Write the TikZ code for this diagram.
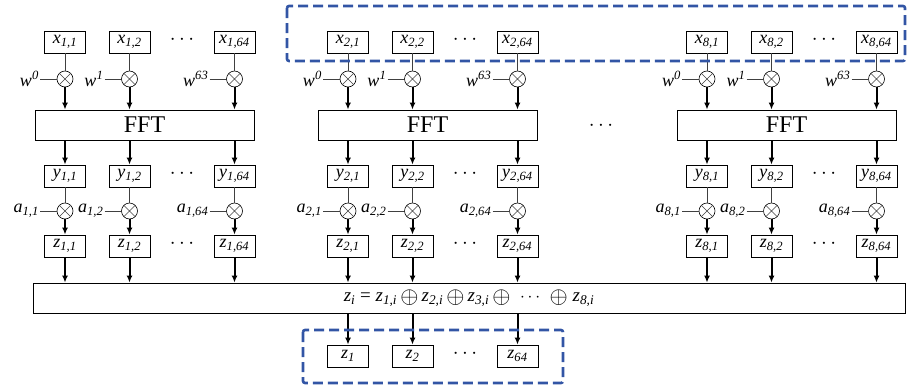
\documentclass[tikz,border=0pt]{standalone}
\usepackage{fontspec}
\setmainfont{Liberation Serif}
\usetikzlibrary{arrows.meta}
\tikzset{>={Latex[length=7pt,width=6pt]}}
\definecolor{dashblue}{RGB}{50,85,165}
\newcommand{\sig}[2]{\textit{#1}\textsubscript{\textit{#2}}}
\newcommand{\pw}[1]{\textit{w}\textsuperscript{\textit{#1}}}
\newcommand{\xo}{\raisebox{-0.09em}{\scalebox{1.35}{$\oplus$}}}

\begin{document}
\begin{tikzpicture}[x=1pt,y=-1pt,
	box/.style={draw,line width=0.8pt,minimum width=41,minimum height=22,inner sep=0pt,font=\fontsize{18}{19}\selectfont},
	mul/.style={draw,circle,line width=0.6pt,minimum size=16,inner sep=0pt},
	wire/.style={line width=0.6pt,black!75},
	flow/.style={->,line width=2pt},
	lab/.style={inner sep=1pt,anchor=east,font=\fontsize{18}{19}\selectfont},
	dots/.style={font=\fontsize{20}{21}\selectfont},
	bluebox/.style={draw=dashblue,line width=2.6pt,dash pattern=on 10pt off 5pt,rounded corners=2pt}]
	\useasboundingbox (0,0) rectangle (910,388);
	\node[draw,line width=0.8pt,minimum width=872,minimum height=30] (sum) at (469,298) {};
	\node[font=\fontsize{19}{20}\selectfont,inner sep=0pt] (eq) at (469,298) {\sig{z}{i} = \sig{z}{1,i}\,\xo\,\sig{z}{2,i}\,\xo\,\sig{z}{3,i}\,\xo\ \ $\cdots$\ \ \xo\ \sig{z}{8,i}};
	\foreach \g/\bx in {1/65,2/348,8/707}
		{
			\node[draw,line width=0.8pt,minimum width=219,minimum height=30,inner sep=0pt,font=\fontsize{24}{26}\selectfont] (fft\g) at (\bx+79.5,125) {FFT};
			\foreach \c/\dx/\w in {1/0/0,2/64.5/1,64/169.5/63}
				{
					%-----input side-----
					\node[box] (x\g-\c) at (\bx+\dx,42) {\sig{x}{\g,\c}};
					\node[mul] (m\g-\c) at (\bx+\dx,79) {};
					\draw[wire] (m\g-\c.north west) -- (m\g-\c.south east) (m\g-\c.north east) -- (m\g-\c.south west);
					\draw[wire] (x\g-\c) -- (m\g-\c);
					\coordinate (wl\g-\c) at (\bx+\dx-25,79);
					\node[lab] (wt\g-\c) at (wl\g-\c) {\pw{\w}};
					\draw[wire] (wl\g-\c) -- (m\g-\c);
					\draw[flow] (m\g-\c) -- (m\g-\c |- fft\g.north);
					%-----output side-----
					\node[box] (y\g-\c) at (\bx+\dx,176) {\sig{y}{\g,\c}};
					\draw[flow] (y\g-\c |- fft\g.south) -- (y\g-\c);
					\node[mul] (a\g-\c) at (\bx+\dx,211) {};
					\draw[wire] (a\g-\c.north west) -- (a\g-\c.south east) (a\g-\c.north east) -- (a\g-\c.south west);
					\draw[wire] (y\g-\c) -- (a\g-\c);
					\coordinate (al\g-\c) at (\bx+\dx-25,211);
					\node[lab] (at\g-\c) at (al\g-\c) {\sig{a}{\g,\c}};
					\draw[wire] (al\g-\c) -- (a\g-\c);
					\node[box] (z\g-\c) at (\bx+\dx,246) {\sig{z}{\g,\c}};
					\draw[flow] (a\g-\c) -- (z\g-\c);
					\draw[flow] (z\g-\c) -- (z\g-\c |- sum.north);
				}
			\node[dots] (dx\g) at (\bx+117,40) {$\cdots$};
			\node[dots] (dy\g) at (\bx+117,174) {$\cdots$};
			\node[dots] (dz\g) at (\bx+117,244) {$\cdots$};
		}
	\node[dots] (dfft) at (601,126) {$\cdots$};
%-----combined outputs-----
	\foreach \c/\dx in {1/0,2/64.5,64/169.5}
		{
			\node[box] (o\c) at (348+\dx,356) {\sig{z}{\c}};
			\draw[flow] (o\c |- sum.south) -- (o\c);
		}
	\node[dots] (dout) at (465,354) {$\cdots$};
	\draw[bluebox] (287,6) rectangle (905,61);
	\draw[bluebox] (303,330) rectangle (563,383);
\end{tikzpicture}
\end{document}
